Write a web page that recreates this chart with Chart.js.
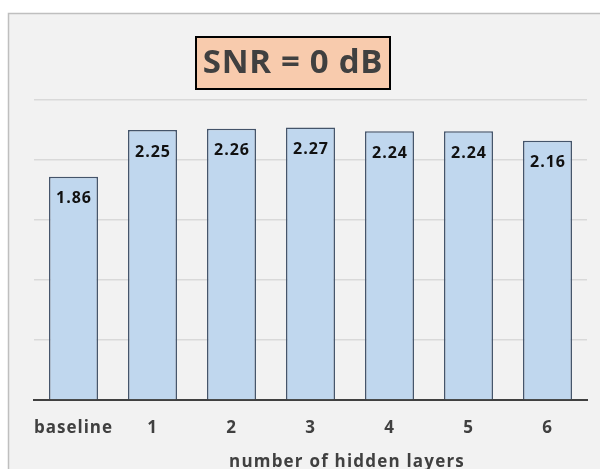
<!DOCTYPE html>
<html>
<head>
<meta charset="utf-8">
<script src="https://cdn.jsdelivr.net/npm/chart.js@4/dist/chart.umd.min.js"></script>
<style>
html,body{margin:0;padding:0;background:#fff;}
#wrap{width:600px;height:469px;position:relative;}
</style>
</head>
<body>
<div id="wrap"><canvas id="c" width="600" height="469"></canvas></div>
<script>
const categories = ['baseline', '1', '2', '3', '4', '5', '6'];
const values = [1.86, 2.25, 2.26, 2.27, 2.24, 2.24, 2.16];
const valueLabels = ['1.86', '2.25', '2.26', '2.27', '2.24', '2.24', '2.16'];
const yTicks = [0, 0.5, 1, 1.5, 2, 2.5];
const chartTitle = 'SNR = 0 dB';
const xTitle = 'number of hidden layers';

const FONT = '"Open Sans", "DejaVu Sans", sans-serif';

const framePlugin = {
  id: 'frame',
  beforeDraw(chart) {
    const ctx = chart.ctx;
    ctx.save();
    ctx.fillStyle = '#ffffff';
    ctx.fillRect(0, 0, 600, 469);
    ctx.fillStyle = '#f2f2f2';
    ctx.fillRect(8, 13, 592, 456);
    ctx.strokeStyle = '#bfbfbf';
    ctx.lineWidth = 1.5;
    ctx.beginPath();
    ctx.moveTo(8.5, 469);
    ctx.lineTo(8.5, 13.5);
    ctx.lineTo(600, 13.5);
    ctx.stroke();
    ctx.restore();
    ctx.letterSpacing = '1px';
  },
  afterDraw(chart) {
    const ctx = chart.ctx;
    ctx.save();
    // title box
    ctx.fillStyle = '#f8cbad';
    ctx.fillRect(196, 37, 194, 52);
    ctx.strokeStyle = '#000000';
    ctx.lineWidth = 2;
    ctx.strokeRect(196, 37, 194, 52);
    ctx.fillStyle = '#404040';
    ctx.textAlign = 'center';
    ctx.textBaseline = 'middle';
    ctx.letterSpacing = '0.7px';
    ctx.font = 'bold 33px ' + FONT;
    ctx.fillText(chartTitle, 293, 64);
    // x title
    ctx.letterSpacing = '1.2px';
    ctx.font = 'bold 17px ' + FONT;
    ctx.fillText(xTitle, 347, 462);
    // value labels
    const meta = chart.getDatasetMeta(0);
    ctx.fillStyle = '#111111';
    ctx.letterSpacing = '1px';
    ctx.font = 'bold 16px ' + FONT;
    meta.data.forEach((bar, i) => {
      ctx.fillText(valueLabels[i], bar.x + 0.5, bar.y + 22);
    });
    ctx.restore();
  }
};

new Chart(document.getElementById('c'), {
  type: 'bar',
  data: {
    labels: categories,
    datasets: [{
      data: values,
      backgroundColor: '#c0d7ee',
      borderColor: '#44546a',
      borderWidth: 1.5,
      barPercentage: 0.62,
      categoryPercentage: 1.0
    }]
  },
  options: {
    responsive: false,
    animation: false,
    devicePixelRatio: 1,
    layout: { padding: { left: 34, right: 13, top: 100, bottom: 0 } },
    plugins: { legend: { display: false }, tooltip: { enabled: false }, title: { display: false } },
    scales: {
      x: {
        grid: { display: false, drawTicks: false },
        border: { display: true, color: '#404040', width: 2 },
        ticks: { color: '#404040', font: { family: FONT, size: 17, weight: 'bold' }, padding: 18, maxRotation: 0 },
        afterFit(s) { s.height = 69; }
      },
      y: {
        min: yTicks[0],
        max: yTicks[yTicks.length - 1],
        afterBuildTicks(s) { s.ticks = yTicks.map(v => ({ value: v })); },
        ticks: { display: false },
        grid: { color: '#d9d9d9', lineWidth: 1.5, drawTicks: false },
        border: { display: false },
        afterFit(s) { s.width = 0; }
      }
    }
  },
  plugins: [framePlugin]
});
</script>
</body>
</html>
